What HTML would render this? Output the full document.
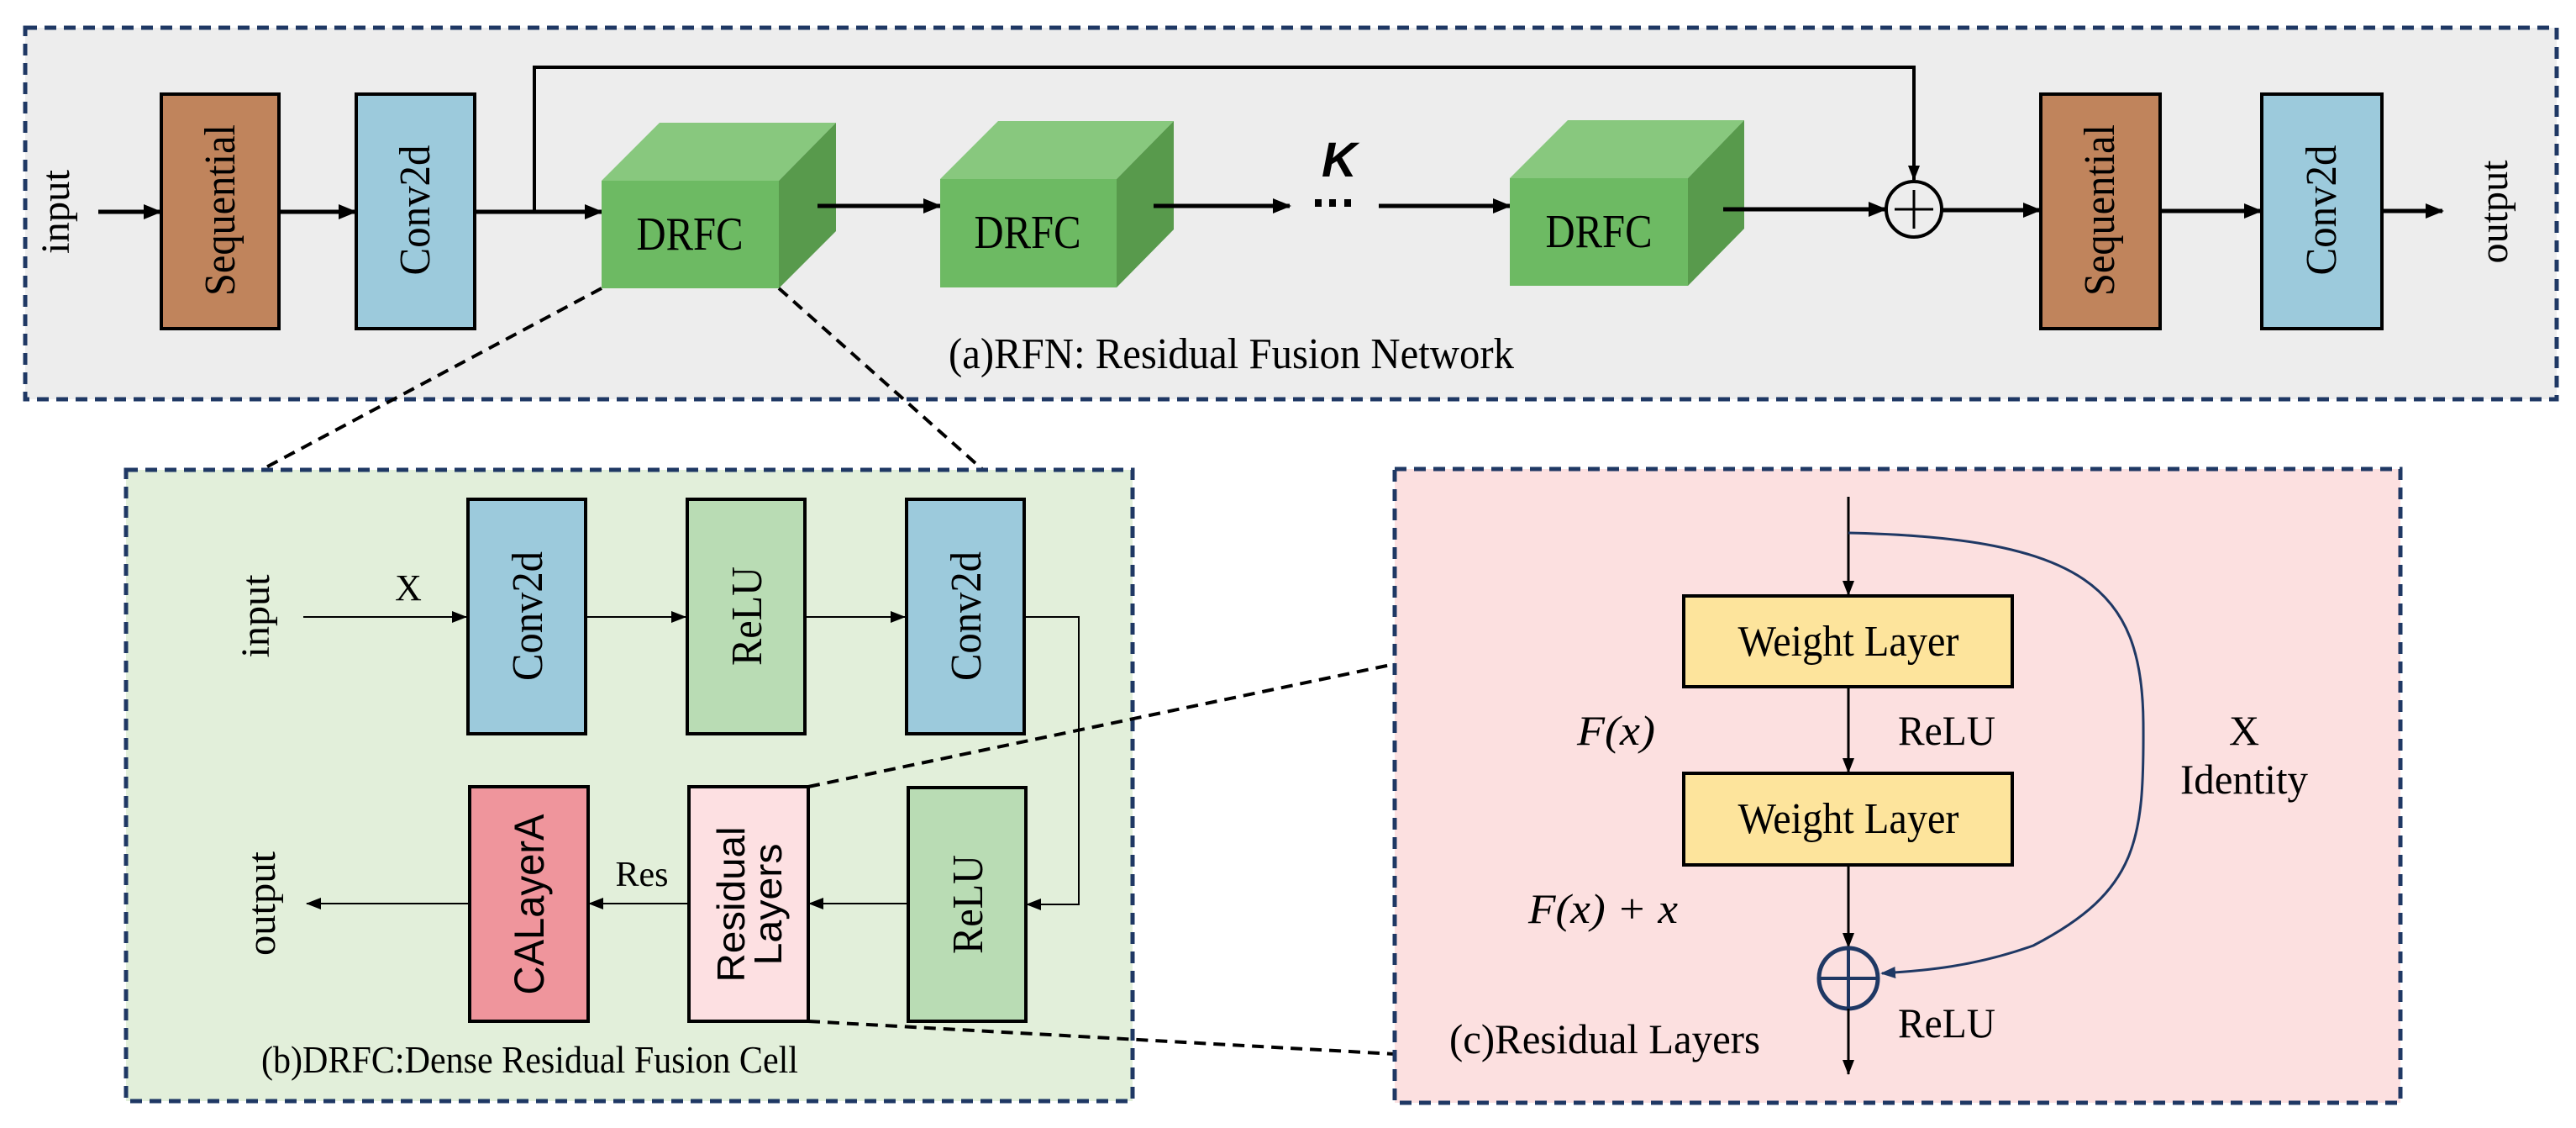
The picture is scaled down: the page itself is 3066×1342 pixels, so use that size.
<!DOCTYPE html>
<html><head><meta charset="utf-8"><style>
html,body{margin:0;padding:0;background:#fff;}
svg{display:block;}
.s{font-family:"Liberation Serif",serif;fill:#000;}
.a{font-family:"Liberation Sans",sans-serif;fill:#000;}
</style></head><body>
<svg width="3066" height="1342" viewBox="0 0 3066 1342" xmlns="http://www.w3.org/2000/svg">
<defs>
<marker id="ab" markerWidth="22" markerHeight="22" refX="20" refY="11" orient="auto" markerUnits="userSpaceOnUse"><path d="M0,2 L22,11 L0,20 z" fill="#000"/></marker>
<marker id="as" markerWidth="18" markerHeight="18" refX="17" refY="9" orient="auto" markerUnits="userSpaceOnUse"><path d="M0,2 L18,9 L0,16 z" fill="#000"/></marker>
<marker id="an" markerWidth="18" markerHeight="18" refX="16" refY="9" orient="auto" markerUnits="userSpaceOnUse"><path d="M0,2 L18,9 L0,16 z" fill="#1f3864"/></marker>
</defs>

<!-- Panel a -->
<rect x="30" y="33" width="3013" height="442" fill="#ededed" stroke="#1f3864" stroke-width="5" stroke-dasharray="14,9"/>
<text class="s" font-size="48" transform="translate(82,252) rotate(-90)" text-anchor="middle" textLength="100" lengthAdjust="spacingAndGlyphs">input</text>
<line x1="117" y1="252" x2="191" y2="252" stroke="#000" stroke-width="5" marker-end="url(#ab)"/>
<rect x="192" y="112" width="140" height="279" fill="#c0845c" stroke="#000" stroke-width="4"/>
<text class="s" font-size="52" transform="translate(279,250) rotate(-90)" text-anchor="middle" textLength="204" lengthAdjust="spacingAndGlyphs">Sequential</text>
<line x1="332" y1="252" x2="423" y2="252" stroke="#000" stroke-width="5" marker-end="url(#ab)"/>
<rect x="424" y="112" width="141" height="279" fill="#9ccadc" stroke="#000" stroke-width="4"/>
<text class="s" font-size="52" transform="translate(511,250) rotate(-90)" text-anchor="middle" textLength="155" lengthAdjust="spacingAndGlyphs">Conv2d</text>
<line x1="565" y1="252" x2="716" y2="252" stroke="#000" stroke-width="5" marker-end="url(#ab)"/>
<polyline points="636,252 636,80 2278,80 2278,214" fill="none" stroke="#000" stroke-width="4" marker-end="url(#as)"/>

<g>
<polygon points="716,215 785,146 995,146 927,215" fill="#88c87e"/>
<polygon points="927,215 995,146 995,275 927,343" fill="#589a4c"/>
<rect x="716" y="215" width="211" height="128" fill="#6dba63"/>
<text class="s" font-size="56" x="821" y="297" text-anchor="middle" textLength="127" lengthAdjust="spacingAndGlyphs">DRFC</text>
</g>
<line x1="973" y1="245" x2="1119" y2="245" stroke="#000" stroke-width="5" marker-end="url(#ab)"/>
<g>
<polygon points="1119,213 1188,144 1397,144 1329,213" fill="#88c87e"/>
<polygon points="1329,213 1397,144 1397,273 1329,342" fill="#589a4c"/>
<rect x="1119" y="213" width="210" height="129" fill="#6dba63"/>
<text class="s" font-size="56" x="1223" y="295" text-anchor="middle" textLength="127" lengthAdjust="spacingAndGlyphs">DRFC</text>
</g>
<line x1="1373" y1="245" x2="1535" y2="245" stroke="#000" stroke-width="5" marker-end="url(#ab)"/>
<rect x="1565" y="237" width="8" height="9" fill="#000"/><rect x="1582" y="237" width="8" height="9" fill="#000"/><rect x="1600" y="237" width="8" height="9" fill="#000"/>
<text x="1594" y="210" font-family="Liberation Sans,sans-serif" font-weight="bold" font-style="italic" font-size="58" text-anchor="middle">K</text>
<line x1="1641" y1="245" x2="1797" y2="245" stroke="#000" stroke-width="5" marker-end="url(#ab)"/>
<g>
<polygon points="1797,212 1866,143 2076,143 2009,212" fill="#88c87e"/>
<polygon points="2009,212 2076,143 2076,272 2009,340" fill="#589a4c"/>
<rect x="1797" y="212" width="212" height="128" fill="#6dba63"/>
<text class="s" font-size="56" x="1903" y="294" text-anchor="middle" textLength="127" lengthAdjust="spacingAndGlyphs">DRFC</text>
</g>
<line x1="2051" y1="249" x2="2244" y2="249" stroke="#000" stroke-width="5" marker-end="url(#ab)"/>
<ellipse cx="2278" cy="249" rx="33" ry="33" fill="none" stroke="#000" stroke-width="4"/>
<line x1="2278" y1="226" x2="2278" y2="272" stroke="#000" stroke-width="3"/>
<line x1="2255" y1="249" x2="2301" y2="249" stroke="#000" stroke-width="3"/>
<line x1="2311" y1="250" x2="2428" y2="250" stroke="#000" stroke-width="5" marker-end="url(#ab)"/>
<rect x="2429" y="112" width="142" height="279" fill="#c0845c" stroke="#000" stroke-width="4"/>
<text class="s" font-size="52" transform="translate(2516,250) rotate(-90)" text-anchor="middle" textLength="204" lengthAdjust="spacingAndGlyphs">Sequential</text>
<line x1="2571" y1="251" x2="2691" y2="251" stroke="#000" stroke-width="5" marker-end="url(#ab)"/>
<rect x="2692" y="112" width="143" height="279" fill="#9ccadc" stroke="#000" stroke-width="4"/>
<text class="s" font-size="52" transform="translate(2780,250) rotate(-90)" text-anchor="middle" textLength="155" lengthAdjust="spacingAndGlyphs">Conv2d</text>
<line x1="2835" y1="251" x2="2907" y2="251" stroke="#000" stroke-width="5" marker-end="url(#ab)"/>
<text class="s" font-size="48" transform="translate(2984,252) rotate(-90)" text-anchor="middle" textLength="123" lengthAdjust="spacingAndGlyphs">output</text>
<text class="s" font-size="52" x="1129" y="438" textLength="673" lengthAdjust="spacingAndGlyphs">(a)RFN: Residual Fusion Network</text>

<line x1="716" y1="343" x2="311" y2="559" stroke="#000" stroke-width="4" stroke-dasharray="14,9"/>
<line x1="927" y1="343" x2="1170" y2="559" stroke="#000" stroke-width="4" stroke-dasharray="14,9"/>

<!-- Panel b -->
<rect x="150" y="559" width="1198" height="751" fill="#e2efda" stroke="#1f3864" stroke-width="5" stroke-dasharray="14,9"/>
<text class="s" font-size="48" transform="translate(320,733) rotate(-90)" text-anchor="middle" textLength="99" lengthAdjust="spacingAndGlyphs">input</text>
<text class="s" font-size="44" x="486" y="714" text-anchor="middle">X</text>
<line x1="361" y1="734" x2="555" y2="734" stroke="#000" stroke-width="2" marker-end="url(#as)"/>
<rect x="557" y="594" width="140" height="279" fill="#9ccadc" stroke="#000" stroke-width="4"/>
<text class="s" font-size="52" transform="translate(645,733) rotate(-90)" text-anchor="middle" textLength="154" lengthAdjust="spacingAndGlyphs">Conv2d</text>
<line x1="697" y1="734" x2="816" y2="734" stroke="#000" stroke-width="2" marker-end="url(#as)"/>
<rect x="818" y="594" width="140" height="279" fill="#b9dcb4" stroke="#000" stroke-width="4"/>
<text class="s" font-size="52" transform="translate(906,733) rotate(-90)" text-anchor="middle" textLength="118" lengthAdjust="spacingAndGlyphs">ReLU</text>
<line x1="958" y1="734" x2="1077" y2="734" stroke="#000" stroke-width="2" marker-end="url(#as)"/>
<rect x="1079" y="594" width="140" height="279" fill="#9ccadc" stroke="#000" stroke-width="4"/>
<text class="s" font-size="52" transform="translate(1167,733) rotate(-90)" text-anchor="middle" textLength="154" lengthAdjust="spacingAndGlyphs">Conv2d</text>
<polyline points="1219,734 1284,734 1284,1076 1222,1076" fill="none" stroke="#000" stroke-width="2" marker-end="url(#as)"/>
<rect x="1081" y="937" width="140" height="278" fill="#b9dcb4" stroke="#000" stroke-width="4"/>
<text class="s" font-size="52" transform="translate(1169,1076) rotate(-90)" text-anchor="middle" textLength="118" lengthAdjust="spacingAndGlyphs">ReLU</text>
<line x1="1081" y1="1075" x2="963" y2="1075" stroke="#000" stroke-width="2" marker-end="url(#as)"/>
<rect x="820" y="936" width="142" height="279" fill="#fde0e2" stroke="#000" stroke-width="4"/>
<text class="a" font-size="46" transform="translate(886,1076) rotate(-90)" text-anchor="middle" textLength="185" lengthAdjust="spacingAndGlyphs">Residual</text>
<text class="a" font-size="46" transform="translate(930,1076) rotate(-90)" text-anchor="middle" textLength="145" lengthAdjust="spacingAndGlyphs">Layers</text>
<line x1="820" y1="1075" x2="701" y2="1075" stroke="#000" stroke-width="2" marker-end="url(#as)"/>
<text class="s" font-size="42" x="764" y="1054" text-anchor="middle">Res</text>
<rect x="559" y="936" width="141" height="279" fill="#ef959c" stroke="#000" stroke-width="4"/>
<text class="a" font-size="50" transform="translate(647,1076) rotate(-90)" text-anchor="middle" textLength="215" lengthAdjust="spacingAndGlyphs">CALayerA</text>
<line x1="559" y1="1075" x2="365" y2="1075" stroke="#000" stroke-width="2" marker-end="url(#as)"/>
<text class="s" font-size="48" transform="translate(327,1075) rotate(-90)" text-anchor="middle" textLength="124" lengthAdjust="spacingAndGlyphs">output</text>
<text class="s" font-size="46" x="311" y="1276" textLength="639" lengthAdjust="spacingAndGlyphs">(b)DRFC:Dense Residual Fusion Cell</text>

<line x1="962" y1="936" x2="1660" y2="790" stroke="#000" stroke-width="4" stroke-dasharray="14,9"/>
<line x1="962" y1="1215" x2="1660" y2="1254" stroke="#000" stroke-width="4" stroke-dasharray="14,9"/>

<!-- Panel c -->
<rect x="1660" y="558" width="1197" height="754" fill="#fce0e0" stroke="#1f3864" stroke-width="5" stroke-dasharray="14,9"/>
<line x1="2200" y1="591" x2="2200" y2="708" stroke="#000" stroke-width="3" marker-end="url(#as)"/>
<rect x="2004" y="709" width="391" height="108" fill="#fde49c" stroke="#000" stroke-width="4"/>
<text class="s" font-size="52" x="2200" y="780" text-anchor="middle" textLength="263" lengthAdjust="spacingAndGlyphs">Weight Layer</text>
<line x1="2200" y1="817" x2="2200" y2="919" stroke="#000" stroke-width="3" marker-end="url(#as)"/>
<rect x="2004" y="920" width="391" height="109" fill="#fde49c" stroke="#000" stroke-width="4"/>
<text class="s" font-size="52" x="2200" y="991" text-anchor="middle" textLength="263" lengthAdjust="spacingAndGlyphs">Weight Layer</text>
<line x1="2200" y1="1029" x2="2200" y2="1127" stroke="#000" stroke-width="3" marker-end="url(#as)"/>
<ellipse cx="2200" cy="1164" rx="35" ry="36" fill="none" stroke="#1f3864" stroke-width="5"/>
<line x1="2200" y1="1128" x2="2200" y2="1200" stroke="#1f3864" stroke-width="4"/>
<line x1="2165" y1="1164" x2="2235" y2="1164" stroke="#1f3864" stroke-width="4"/>
<line x1="2200" y1="1200" x2="2200" y2="1278" stroke="#000" stroke-width="3" marker-end="url(#as)"/>
<path d="M2200,634 C2480,640 2550,700 2551,860 C2552,1000 2545,1060 2420,1125 C2350,1150 2290,1155 2240,1158" fill="none" stroke="#1f3864" stroke-width="3" marker-end="url(#an)"/>
<text class="s" font-size="50" font-style="italic" x="1877" y="886" textLength="93" lengthAdjust="spacingAndGlyphs">F(x)</text>
<text class="s" font-size="50" x="2259" y="886" textLength="116" lengthAdjust="spacingAndGlyphs">ReLU</text>
<text class="s" font-size="50" x="2671" y="886" text-anchor="middle">X</text>
<text class="s" font-size="50" x="2595" y="944" textLength="152" lengthAdjust="spacingAndGlyphs">Identity</text>
<text class="s" font-size="50" font-style="italic" x="1819" y="1098" textLength="178" lengthAdjust="spacingAndGlyphs">F(x) + x</text>
<text class="s" font-size="50" x="2259" y="1234" textLength="116" lengthAdjust="spacingAndGlyphs">ReLU</text>
<text class="s" font-size="50" x="1725" y="1253" textLength="370" lengthAdjust="spacingAndGlyphs">(c)Residual Layers</text>
</svg>
</body></html>
